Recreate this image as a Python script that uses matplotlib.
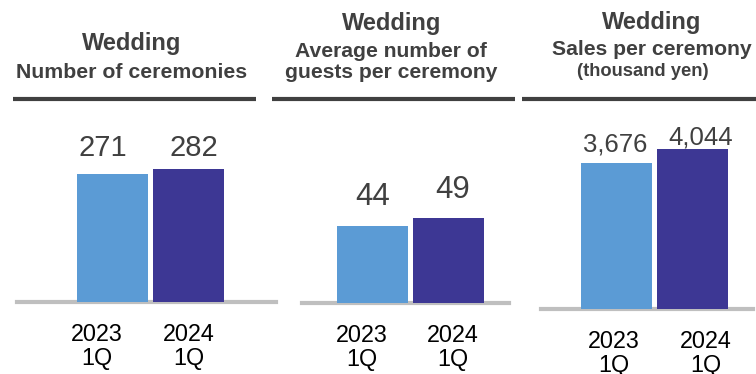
import matplotlib
matplotlib.use('Agg')
import matplotlib.pyplot as plt
from matplotlib.lines import Line2D

plt.rcParams['font.family'] = ['Liberation Sans', 'DejaVu Sans']

# data
periods = ['2023', '2024']
quarter = '1Q'
ceremonies = [271, 282]
guests_per_ceremony = [44, 49]
sales_per_ceremony = [3676, 4044]   # thousand yen

titles = [
    ['Number of ceremonies'],
    ['Average number of', 'guests per ceremony'],
    ['Sales per ceremony', '(thousand yen)'],
]

bar_colors = ['#5B9BD5', '#3D3794']
text_gray = '#404040'
base_gray = '#BFBFBF'

W, H = 756, 374
fig = plt.figure(figsize=(W / 100, H / 100), dpi=100)


def fx(px):
    return px / W


def fy(py):
    return 1 - py / H


# panel layout in pixels: baseline extent, baseline y, bar center of first bar, px per unit
panels = [
    dict(values=ceremonies, fmt='{:d}', x0=17, x1=276, base=301.5, c0=112.5, scale=0.471, ytop=400,
         vfs=21, voff=[(-10, 18), (5, 13)], loff=[-15.5, 0.5]),
    dict(values=guests_per_ceremony, fmt='{:d}', x0=302, x1=509, base=302.5, c0=372.5, scale=1.73, ytop=100,
         vfs=22.5, voff=[(0, 21), (4, 20)], loff=[-11, 4]),
    dict(values=sales_per_ceremony, fmt='{:,}', x0=541, x1=753, base=308.5, c0=616.5, scale=0.0395, ytop=5000,
         vfs=18.5, voff=[(-1.5, 12), (8.5, 4)], loff=[-3, 13]),
]
pitch = 76
bar_w = 71 / pitch

for p in panels:
    height_px = p['ytop'] * p['scale']
    ax = fig.add_axes([fx(p['x0']), fy(p['base']), (p['x1'] - p['x0']) / W, height_px / H])
    ax.set_xlim((p['x0'] - p['c0']) / pitch, (p['x1'] - p['c0']) / pitch)
    ax.set_ylim(0, p['ytop'])
    ax.axis('off')
    ax.axhline(0, color=base_gray, lw=3, zorder=1, clip_on=False)
    xs = list(range(len(p['values'])))
    ax.bar(xs, p['values'], width=bar_w, color=bar_colors, zorder=2)
    for i, v in enumerate(p['values']):
        dx, dy = p['voff'][i]
        ax.annotate(p['fmt'].format(v), xy=(i, v), xytext=(dx, dy), textcoords='offset pixels',
                    ha='center', va='baseline', fontsize=p['vfs'], color=text_gray, annotation_clip=False)
        ax.annotate(periods[i], xy=(i, 0), xytext=(p['loff'][i], -39.5), textcoords='offset pixels',
                    ha='center', va='baseline', fontsize=16.8, color='black', annotation_clip=False)
        ax.annotate(quarter, xy=(i, 0), xytext=(p['loff'][i], -63.5), textcoords='offset pixels',
                    ha='center', va='baseline', fontsize=16.8, color='black', annotation_clip=False)

# panel headings
heads = [
    dict(cx=132, y_w=50, lines=[(titles[0][0], 132, 78, 15.3)]),
    dict(cx=392, y_w=30, lines=[(titles[1][0], 391, 57, 15.2), (titles[1][1], 391.5, 77.5, 15.2)]),
    dict(cx=652, y_w=29, lines=[(titles[2][0], 652, 55, 15.2), (titles[2][1], 643, 76, 13.2)]),
]
for h in heads:
    fig.text(fx(h['cx']), fy(h['y_w']), 'Wedding', ha='center', va='baseline',
             fontsize=17, fontweight='bold', color=text_gray)
    for txt, cx, by, fs in h['lines']:
        fig.text(fx(cx), fy(by), txt, ha='center', va='baseline',
                 fontsize=fs, fontweight='bold', color=text_gray)

# rules under the headings
for a, b in [(13, 256), (272, 515), (522, 756)]:
    fig.add_artist(Line2D([fx(a), fx(b)], [fy(98.7), fy(98.7)], color=text_gray, lw=3.0,
                          solid_capstyle='butt'))

fig.savefig('out.png', dpi=100)
